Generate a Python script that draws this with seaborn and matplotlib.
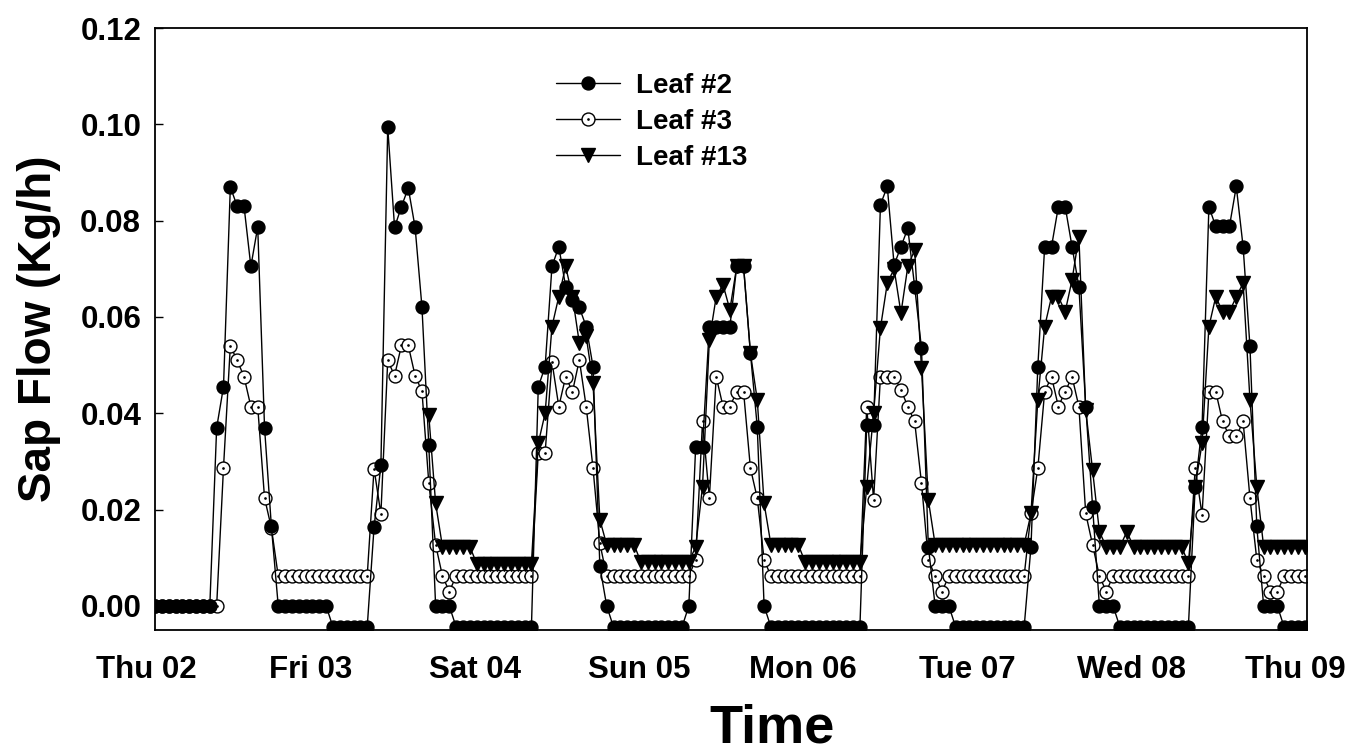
import matplotlib
matplotlib.use("Agg")
import matplotlib.pyplot as plt
import matplotlib.dates as mdates
import matplotlib.transforms as mtransforms
from matplotlib.path import Path
from matplotlib.ticker import MultipleLocator, FormatStrFormatter
import numpy as np
import pandas as pd
import seaborn as sns

nan = np.nan

# hourly readings, Thu 02 00:00 to Thu 09 00:00
start_time = "2015-07-02 00:00"

leaf2 = [
    # Thu 02
    0.0, 0.0, 0.0, 0.0, 0.0, 0.0, 0.0, 0.0, 0.0, 0.037, 0.0455, 0.087,
    0.083, 0.083, 0.0705, 0.0787, 0.037, 0.0165, 0.0, 0.0, 0.0, 0.0, 0.0, 0.0,
    # Fri 03
    0.0, 0.0, -0.0044, -0.0044, -0.0044, -0.0044, -0.0044, -0.0044, 0.0163, 0.0292, 0.0994, 0.0786,
    0.0829, 0.0868, 0.0786, 0.0621, 0.0335, 0.0, 0.0, 0.0, -0.0044, -0.0044, -0.0044, -0.0044,
    # Sat 04
    -0.0044, -0.0044, -0.0044, -0.0044, -0.0044, -0.0044, -0.0044, -0.0044, 0.0455, 0.0497, 0.0705, 0.0746,
    0.0663, 0.0636, 0.062, 0.058, 0.0497, 0.0082, 0.0, -0.0044, -0.0044, -0.0044, -0.0044, -0.0044,
    # Sun 05
    -0.0044, -0.0044, -0.0044, -0.0044, -0.0044, -0.0044, 0.0, 0.0331, 0.0331, 0.058, 0.058, 0.058,
    0.058, 0.0705, 0.0705, 0.0525, 0.0372, 0.0, -0.0044, -0.0044, -0.0044, -0.0044, -0.0044, -0.0044,
    # Mon 06
    -0.0044, -0.0044, -0.0044, -0.0044, -0.0044, -0.0044, -0.0044, -0.0044, 0.0376, 0.0376, 0.0833, 0.0871,
    0.0708, 0.0746, 0.0784, 0.0663, 0.0535, 0.0123, 0.0, 0.0, 0.0, -0.0044, -0.0044, -0.0044,
    # Tue 07
    -0.0044, -0.0044, -0.0044, -0.0044, -0.0044, -0.0044, -0.0044, -0.0044, 0.0123, 0.0497, 0.0746, 0.0746,
    0.0829, 0.0829, 0.0746, 0.0663, 0.0414, 0.0206, 0.0, 0.0, 0.0, -0.0044, -0.0044, -0.0044,
    # Wed 08
    -0.0044, -0.0044, -0.0044, -0.0044, -0.0044, -0.0044, -0.0044, -0.0044, 0.0248, 0.0372, 0.0829, 0.0788,
    0.0788, 0.0788, 0.0871, 0.0746, 0.0539, 0.0165, 0.0, 0.0, 0.0, -0.0044, -0.0044, -0.0044,
    # Thu 09
    -0.0044,
]

leaf3 = [
    # Thu 02
    0.0, 0.0, 0.0, 0.0, 0.0, 0.0, 0.0, 0.0, 0.0, 0.0, 0.0287, 0.054,
    0.051, 0.0476, 0.0414, 0.0414, 0.0224, 0.0162, 0.0062, 0.0062, 0.0062, 0.0062, 0.0062, 0.0062,
    # Fri 03
    0.0062, 0.0062, 0.0062, 0.0062, 0.0062, 0.0062, 0.0062, 0.0062, 0.0285, 0.0191, 0.051, 0.0478,
    0.0541, 0.0541, 0.0478, 0.0446, 0.0256, 0.0127, 0.0062, 0.003, 0.0062, 0.0062, 0.0062, 0.0062,
    # Sat 04
    0.0062, 0.0062, 0.0062, 0.0062, 0.0062, 0.0062, 0.0062, 0.0062, 0.0318, 0.0318, 0.0507, 0.0414,
    0.0476, 0.0445, 0.0511, 0.0414, 0.0286, 0.013, 0.0062, 0.0062, 0.0062, 0.0062, 0.0062, 0.0062,
    # Sun 05
    0.0062, 0.0062, 0.0062, 0.0062, 0.0062, 0.0062, 0.0062, 0.0096, 0.0383, 0.0224, 0.0476, 0.0414,
    0.0414, 0.0445, 0.0445, 0.0286, 0.0224, 0.0096, 0.0062, 0.0062, 0.0062, 0.0062, 0.0062, 0.0062,
    # Mon 06
    0.0062, 0.0062, 0.0062, 0.0062, 0.0062, 0.0062, 0.0062, 0.0062, 0.0414, 0.022, 0.0476, 0.0476,
    0.0476, 0.0449, 0.0414, 0.0383, 0.0255, 0.0096, 0.0062, 0.003, 0.0062, 0.0062, 0.0062, 0.0062,
    # Tue 07
    0.0062, 0.0062, 0.0062, 0.0062, 0.0062, 0.0062, 0.0062, 0.0062, 0.0192, 0.0286, 0.0445, 0.0476,
    0.0414, 0.0445, 0.0476, 0.0414, 0.0192, 0.0127, 0.0062, 0.003, 0.0062, 0.0062, 0.0062, 0.0062,
    # Wed 08
    0.0062, 0.0062, 0.0062, 0.0062, 0.0062, 0.0062, 0.0062, 0.0062, 0.0287, 0.0189, 0.0445, 0.0445,
    0.0383, 0.0352, 0.0352, 0.0383, 0.0224, 0.0096, 0.0062, 0.003, 0.003, 0.0062, 0.0062, 0.0062,
    # Thu 09
    0.0062,
]

leaf13 = [
    # Thu 02 (no readings)
    nan, nan, nan, nan, nan, nan, nan, nan, nan, nan, nan, nan,
    nan, nan, nan, nan, nan, nan, nan, nan, nan, nan, nan, nan,
    # Fri 03
    nan, nan, nan, nan, nan, nan, nan, nan, nan, nan, nan, nan,
    nan, nan, nan, nan, 0.0396, 0.0213, 0.0123, 0.0123, 0.0123, 0.0123, 0.0123, 0.0088,
    # Sat 04
    0.0088, 0.0088, 0.0088, 0.0088, 0.0088, 0.0088, 0.0088, 0.0088, 0.0338, 0.04, 0.058, 0.0642,
    0.0705, 0.0642, 0.0546, 0.056, 0.0463, 0.0179, 0.0127, 0.0127, 0.0127, 0.0127, 0.0127, 0.0091,
    # Sun 05
    0.0091, 0.0091, 0.0091, 0.0091, 0.0091, 0.0091, 0.0091, 0.0123, 0.0248, 0.0552, 0.0642, 0.0667,
    0.0615, 0.0705, 0.0705, 0.0525, 0.0428, 0.0213, 0.0127, 0.0127, 0.0127, 0.0127, 0.0127, 0.0091,
    # Mon 06
    0.0091, 0.0091, 0.0091, 0.0091, 0.0091, 0.0091, 0.0091, 0.0091, 0.0248, 0.04, 0.0577, 0.067,
    0.07, 0.0608, 0.0705, 0.0739, 0.0494, 0.022, 0.0127, 0.0127, 0.0127, 0.0127, 0.0127, 0.0127,
    # Tue 07
    0.0127, 0.0127, 0.0127, 0.0127, 0.0127, 0.0127, 0.0127, 0.0127, 0.0192, 0.0428, 0.058, 0.0642,
    0.0642, 0.0611, 0.0677, 0.0767, 0.0407, 0.0282, 0.0154, 0.0123, 0.0123, 0.0123, 0.0154, 0.0123,
    # Wed 08
    0.0123, 0.0123, 0.0123, 0.0123, 0.0123, 0.0123, 0.0123, 0.0089, 0.0248, 0.0338, 0.058, 0.0642,
    0.0611, 0.0611, 0.0642, 0.067, 0.0428, 0.0248, 0.0123, 0.0123, 0.0123, 0.0123, 0.0123, 0.0123,
    # Thu 09
    0.0123,
]

series_names = ["Leaf #2", "Leaf #3", "Leaf #13"]

sns.set_theme(style="white")
plt.rcParams["font.family"] = ["Liberation Sans", "DejaVu Sans"]
plt.rcParams["font.weight"] = "bold"
for key in ["text.color", "axes.labelcolor", "xtick.color", "ytick.color"]:
    plt.rcParams[key] = "black"

time = pd.date_range(start_time, periods=len(leaf2), freq="h")
df = pd.DataFrame({"Time": time, "Leaf #2": leaf2, "Leaf #3": leaf3, "Leaf #13": leaf13})

fig = plt.figure(figsize=(13.65, 7.53), dpi=100)
ax = fig.add_axes([0.1136, 0.1633, 0.8439, 0.7995])

# open circle with a dot in the middle
dot_circle = Path.make_compound_path(Path.unit_circle(), Path.circle((0, 0), 0.1))

styles = {
    "Leaf #2": dict(marker="o", markersize=9.3, markerfacecolor="black", zorder=4),
    "Leaf #3": dict(marker=dot_circle, markersize=9.3, markerfacecolor="white", zorder=2),
    "Leaf #13": dict(marker="v", markersize=9.5, markerfacecolor="black", zorder=3),
}

for name in series_names:
    sns.lineplot(data=df, x="Time", y=name, ax=ax, color="black", linewidth=1,
                 markeredgecolor="black", markeredgewidth=1, label=name,
                 errorbar=None, **styles[name])

ax.set_xlim(time[0], time[0] + pd.Timedelta(days=7, minutes=20))
ax.set_ylim(-0.005, 0.12)
ax.xaxis.set_major_locator(mdates.DayLocator())
ax.xaxis.set_major_formatter(mdates.DateFormatter("%a %d"))
ax.yaxis.set_major_locator(MultipleLocator(0.02))
ax.yaxis.set_major_formatter(FormatStrFormatter("%.2f"))

ax.tick_params(axis="y", direction="in", length=6, width=1, color="black",
               labelsize=22.5, pad=10, left=True)
ax.tick_params(axis="x", length=0, labelsize=22.5, pad=18)
for lbl in ax.get_xticklabels() + ax.get_yticklabels():
    lbl.set_fontweight("bold")

offset = mtransforms.ScaledTranslation(-9 / 100, 0, fig.dpi_scale_trans)
for lbl in ax.xaxis.get_majorticklabels():
    lbl.set_transform(lbl.get_transform() + offset)

for side in ["left", "right", "top", "bottom"]:
    ax.spines[side].set_color("black")
    ax.spines[side].set_linewidth(1.3)

ax.set_xlabel("Time", fontsize=39, fontweight="bold", labelpad=13)
ax.xaxis.label.set_x(0.536)
ax.set_ylabel("Sap Flow (Kg/h)", fontsize=33, fontweight="bold", labelpad=14)

ax.legend(loc="upper left", bbox_to_anchor=(0.348, 0.925), frameon=False,
          prop={"weight": "bold", "size": 20}, handlelength=2.3,
          handletextpad=0.6, labelspacing=0.36, borderaxespad=0, borderpad=0)

fig.savefig("out.png", dpi=100)
